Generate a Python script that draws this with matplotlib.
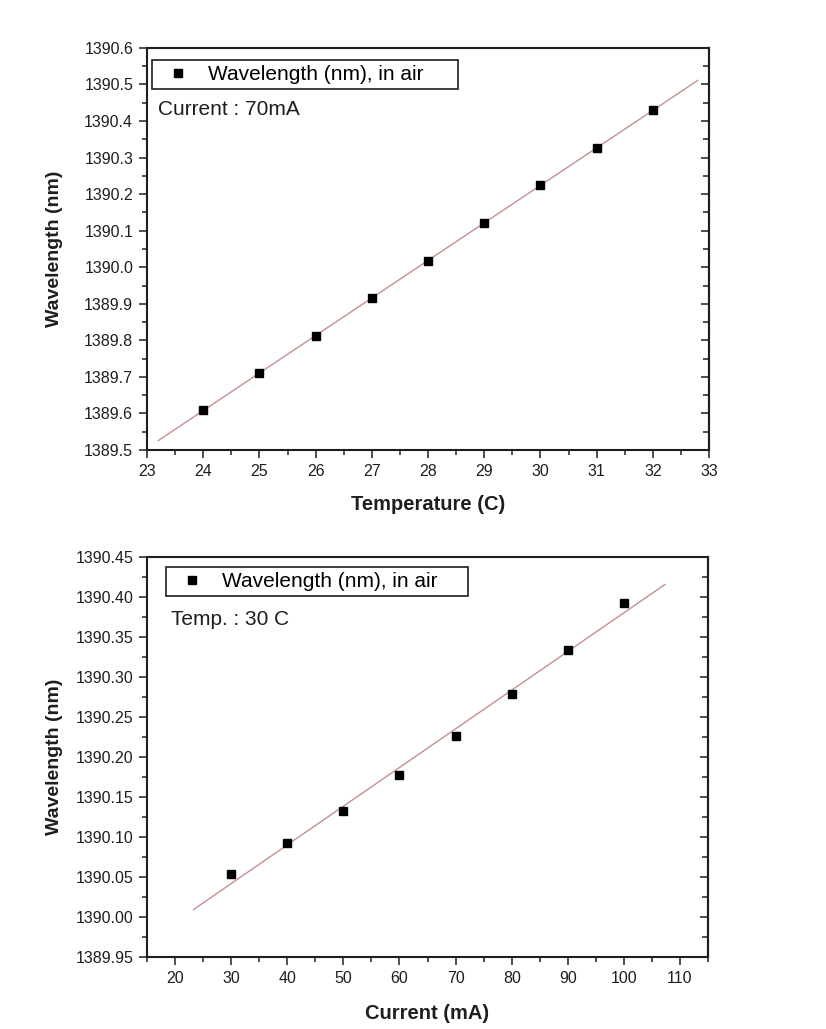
import matplotlib
matplotlib.use('Agg')
import matplotlib.pyplot as plt
from matplotlib.ticker import MultipleLocator, FormatStrFormatter
import numpy as np

plt.rcParams['font.family'] = ['Liberation Sans', 'DejaVu Sans']

# temperature sweep at 70 mA
temperature = [24, 25, 26, 27, 28, 29, 30, 31, 32]
wl_temp = [1389.609, 1389.711, 1389.812, 1389.916, 1390.017,
           1390.121, 1390.225, 1390.326, 1390.430]

# current sweep at 30 C
current = [30, 40, 50, 60, 70, 80, 90, 100]
wl_curr = [1390.054, 1390.092, 1390.133, 1390.178, 1390.226,
           1390.279, 1390.334, 1390.392]

legend_label = 'Wavelength (nm), in air'
INK = '#1e1e1e'


def style_axes(ax, xmaj, xmin, ymaj, ymin, yfmt):
    ax.xaxis.set_major_locator(MultipleLocator(xmaj))
    ax.xaxis.set_minor_locator(MultipleLocator(xmin))
    ax.yaxis.set_major_locator(MultipleLocator(ymaj))
    ax.yaxis.set_minor_locator(MultipleLocator(ymin))
    ax.yaxis.set_major_formatter(FormatStrFormatter(yfmt))
    ax.tick_params(which='both', direction='out', top=False, right=False,
                   labelsize=11.5, colors=INK, width=1.1, pad=4)
    ax.tick_params(which='major', length=6)
    ax.tick_params(which='minor', length=3.5)
    for s in ax.spines.values():
        s.set_linewidth(1.5)
        s.set_color(INK)
    # right side ticks point inward, no labels
    ry = ax.secondary_yaxis('right')
    ry.yaxis.set_major_locator(MultipleLocator(ymaj))
    ry.yaxis.set_minor_locator(MultipleLocator(ymin))
    ry.tick_params(which='major', direction='in', length=5.5, width=1.1,
                   labelright=False, colors=INK)
    ry.tick_params(which='minor', direction='in', length=4.5, width=1.1,
                   labelright=False, colors=INK)
    ry.spines['right'].set_linewidth(1.5)
    ry.spines['right'].set_color(INK)


def draw(ax, x, y, xr, note, leg_box, note_xy):
    k, b = np.polyfit(x, y, 1)
    xs = np.array(xr)
    ax.plot(xs, k * xs + b, color='#c49090', lw=1.0, zorder=2)
    ax.plot(x, y, 's', color='black', ms=6, ls='none', label=legend_label, zorder=3)
    leg = ax.legend(loc='upper left', fontsize=15, frameon=True, fancybox=False,
                    handletextpad=0.45, borderpad=0.25, handlelength=2.0,
                    borderaxespad=0, bbox_to_anchor=leg_box, mode='expand',
                    framealpha=1)
    leg.get_frame().set_edgecolor(INK)
    leg.get_frame().set_linewidth(1.2)
    ax.text(note_xy[0], note_xy[1], note, transform=ax.transAxes, fontsize=15,
            color=INK, ha='left', va='center')


fig = plt.figure(figsize=(8.26, 10.29), dpi=100)

ax1 = fig.add_axes([0.1780, 0.5627, 0.6804, 0.3907])
draw(ax1, temperature, wl_temp, [23.2, 32.8], 'Current : 70mA',
     (0.009, 0.0, 0.545, 0.970), (0.020, 0.846))
ax1.set_xlim(23, 33)
ax1.set_ylim(1389.5, 1390.6)
style_axes(ax1, 1, 0.5, 0.1, 0.05, '%.1f')
ax1.set_xlabel('Temperature (C)', fontsize=14.5, fontweight='bold', color=INK)
ax1.set_ylabel('Wavelength (nm)', fontsize=14, fontweight='bold', color=INK)
ax1.xaxis.set_label_coords(0.5, -0.112)
ax1.yaxis.set_label_coords(-0.150, 0.5)

ax2 = fig.add_axes([0.1780, 0.0700, 0.6792, 0.3887])
draw(ax2, current, wl_curr, [23.3, 107.3], 'Temp. : 30 C',
     (0.034, 0.0, 0.538, 0.975), (0.043, 0.844))
ax2.set_xlim(15, 115)
ax2.set_ylim(1389.95, 1390.45)
style_axes(ax2, 10, 5, 0.05, 0.025, '%.2f')
ax2.set_xlabel('Current (mA)', fontsize=14.5, fontweight='bold', color=INK)
ax2.set_ylabel('Wavelength (nm)', fontsize=14, fontweight='bold', color=INK)
ax2.xaxis.set_label_coords(0.5, -0.118)
ax2.yaxis.set_label_coords(-0.150, 0.5)

fig.savefig('out.png', dpi=100, facecolor='white')
